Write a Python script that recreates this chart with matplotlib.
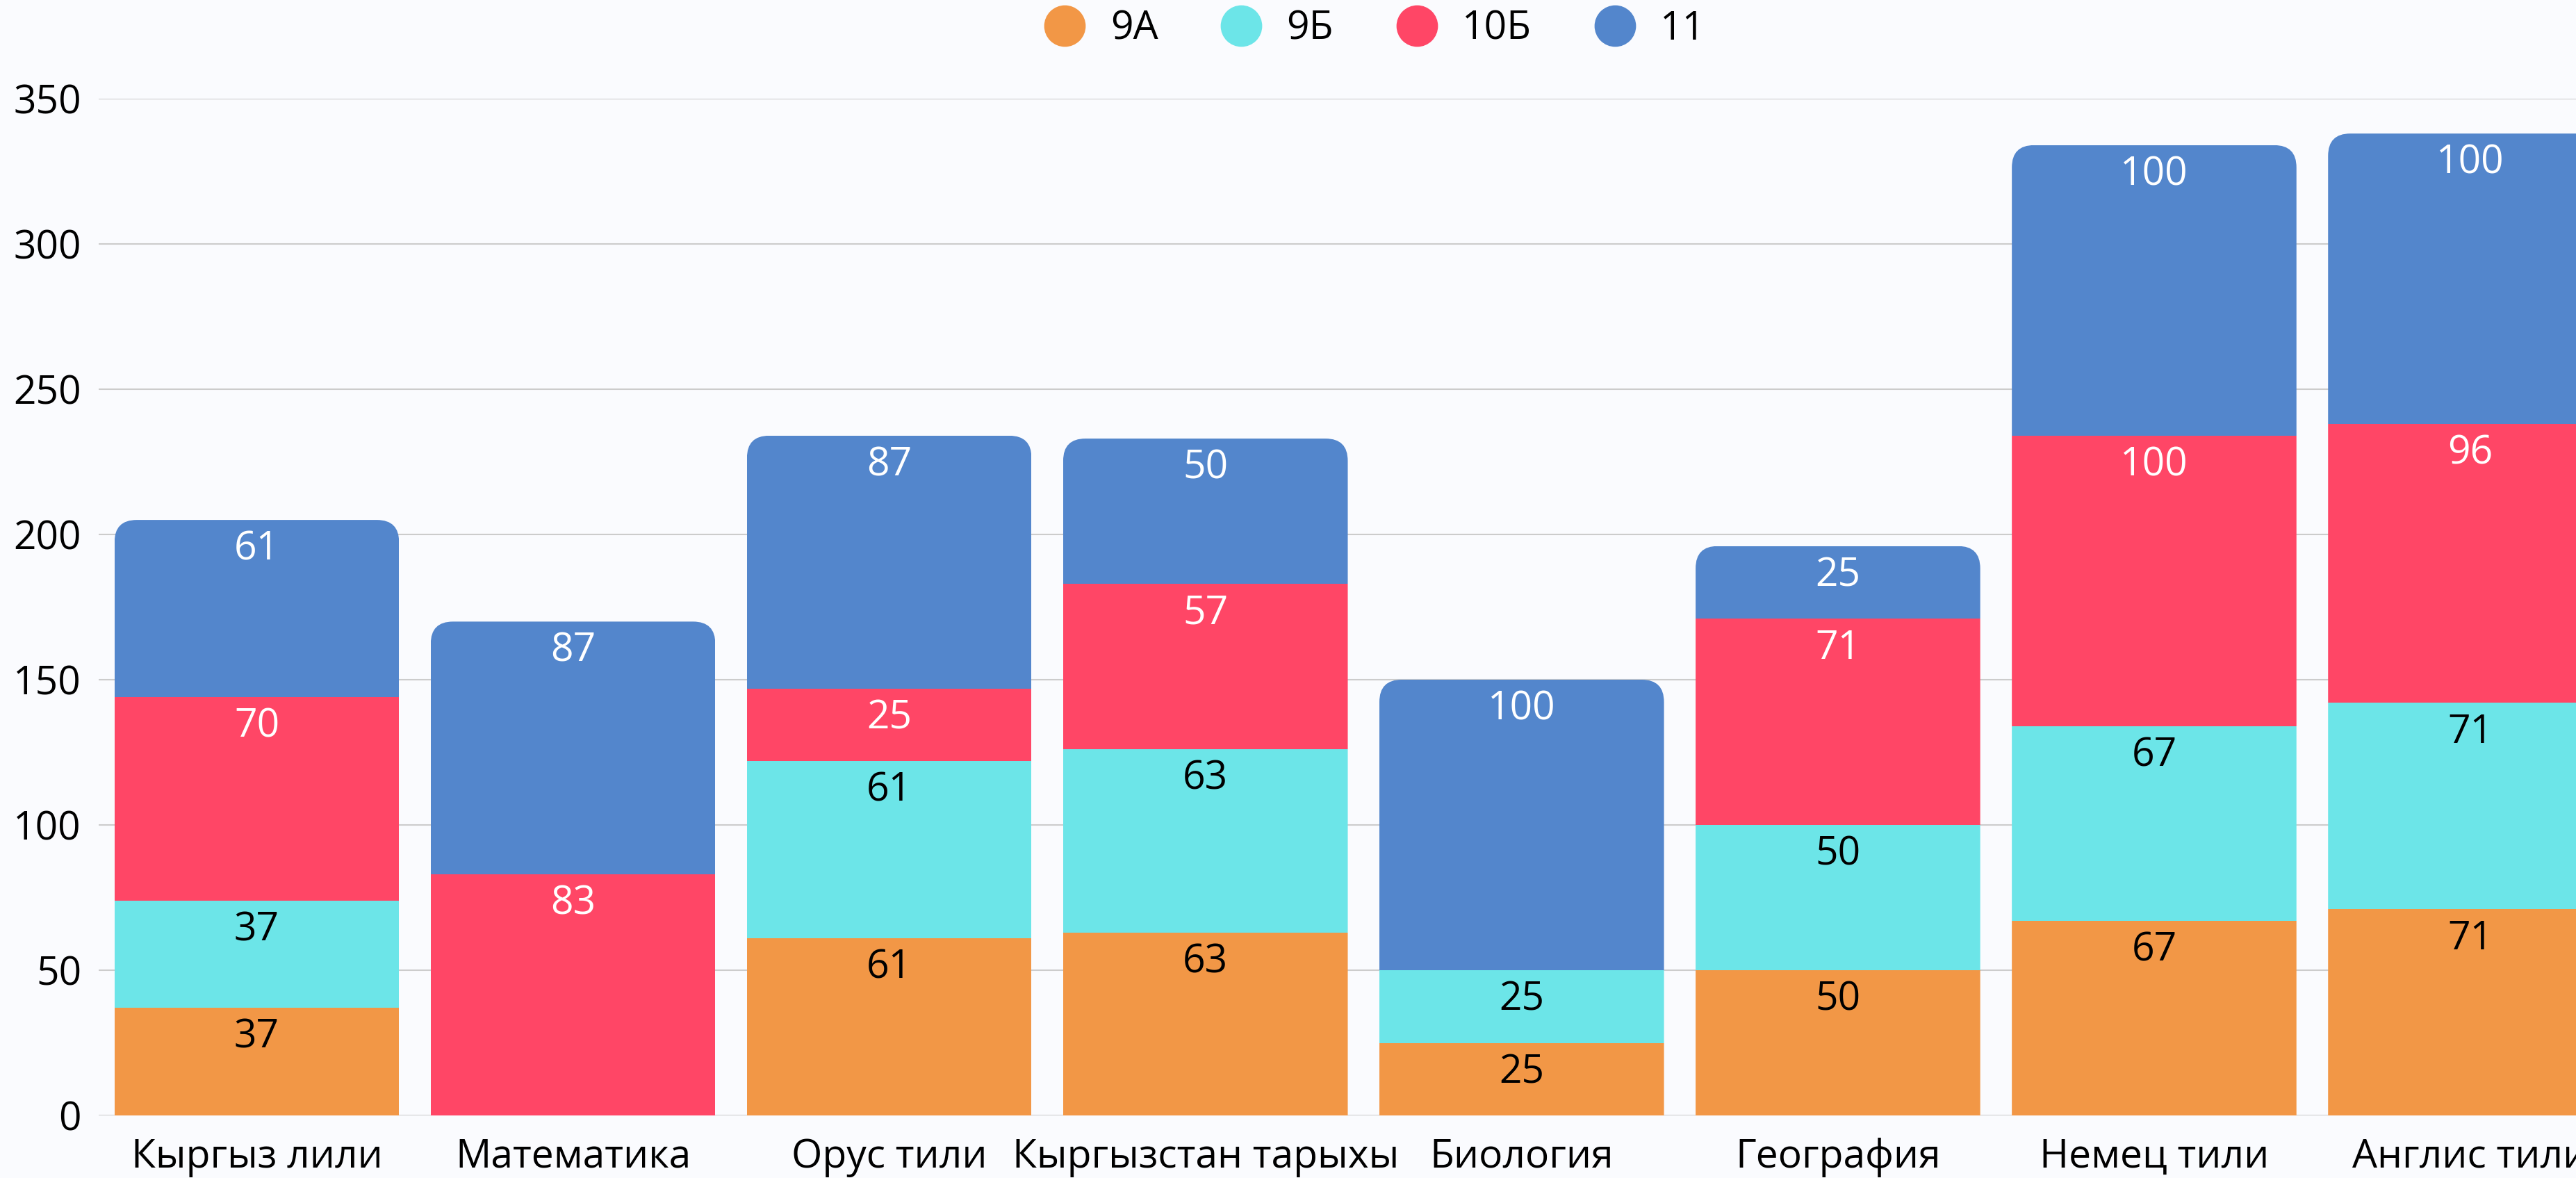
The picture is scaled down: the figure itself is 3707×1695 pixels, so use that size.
import matplotlib.pyplot as plt
import numpy as np
from matplotlib.patches import FancyBboxPatch
from matplotlib.lines import Line2D

plt.rcParams['font.family'] = ['Open Sans', 'DejaVu Sans']

# data
subjects = ["Кыргыз лили", "Математика", "Орус тили", "Кыргызстан тарыхы",
            "Биология", "География", "Немец тили", "Англис тили"]
groups = ["9А", "9Б", "10Б", "11"]
g9a = [37, 0, 61, 63, 25, 50, 67, 71]
g9b = [37, 0, 61, 63, 25, 50, 67, 71]
g10b = [70, 83, 25, 57, 0, 71, 100, 96]
g11 = [61, 87, 87, 50, 100, 25, 100, 100]

colors = ['#F29746', '#6CE5E8', '#FF4666', '#5386CC']
text_colors = ['black', 'black', 'white', 'white']
bg = '#FAFBFE'

W, H = 3707, 1695
fig = plt.figure(figsize=(W / 100, H / 100), dpi=100, facecolor=bg)
ax = fig.add_axes([142 / W, 1 - 1605 / H, 1 - 142 / W, (1605 - 142) / H])
ax.set_facecolor(bg)

x = np.arange(len(subjects))
bw = 0.9
ax.set_xlim(-0.5, 7.334)
ax.set_ylim(0, 350)

series = [g9a, g9b, g10b, g11]
totals = np.sum(series, axis=0)

# rounded top corners via clip path
px_x = (W - 142) / (7.334 + 0.5)
px_y = (1605 - 142) / 350
r_px = 32
rx = r_px / px_x
aspect = (r_px / px_y) / rx
clips = []
for i in range(len(subjects)):
    p = FancyBboxPatch((x[i] - bw / 2, -50), bw, totals[i] + 50,
                       boxstyle=f"round,pad=0,rounding_size={rx}",
                       mutation_aspect=aspect, transform=ax.transData)
    clips.append(p)

bottom = np.zeros(len(subjects))
for k, vals in enumerate(series):
    vals = np.array(vals)
    bars = ax.bar(x, vals, bw, bottom=bottom, color=colors[k], label=groups[k], zorder=3)
    for i, b in enumerate(bars):
        b.set_clip_path(clips[i])
        if vals[i] > 0:
            ax.annotate(str(vals[i]), (x[i], bottom[i] + vals[i]), xytext=(0, -31),
                        textcoords='offset points', ha='center', va='center',
                        fontsize=41, color=text_colors[k], zorder=4)
    bottom += vals

ax.set_yticks(np.arange(0, 351, 50))
ax.grid(axis='y', color='#cccccc', lw=1.5, zorder=0)
ax.axhline(0, color='#888888', lw=2, zorder=1)
for s in ax.spines.values():
    s.set_visible(False)
ax.set_xticks(x)
ax.set_xticklabels(subjects)
ax.tick_params(axis='x', length=0, pad=23, labelsize=41)
ax.tick_params(axis='y', length=0, pad=18, labelsize=41)

handles = [Line2D([], [], marker='o', linestyle='', markersize=42,
                  markerfacecolor=c, markeredgecolor=c) for c in colors]
fig.legend(handles, groups, loc='upper center', bbox_to_anchor=(1965 / W, 1.022),
           ncol=4, frameon=False, fontsize=41, handletextpad=0.15,
           columnspacing=1.1)

plt.savefig("out.png", dpi=100, facecolor=bg)
